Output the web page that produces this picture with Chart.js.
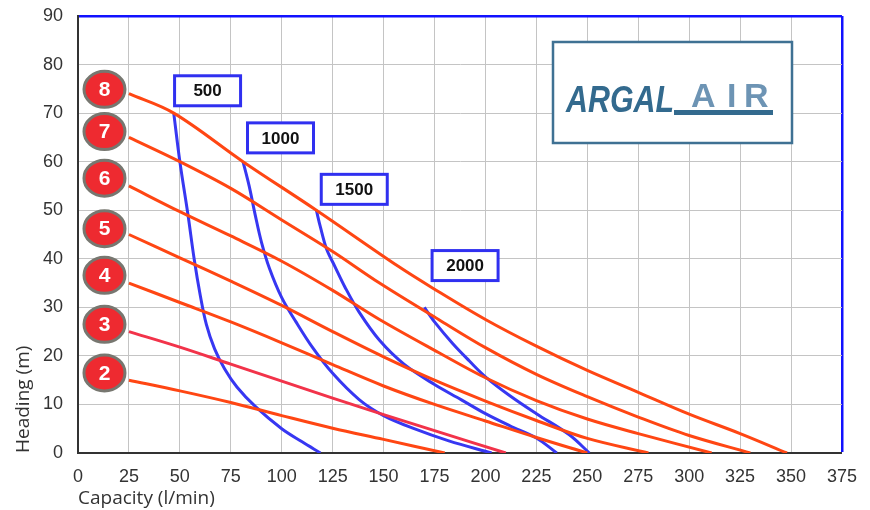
<!DOCTYPE html>
<html>
<head>
<meta charset="utf-8">
<script src="https://cdn.jsdelivr.net/npm/chart.js@4.4.1/dist/chart.umd.min.js"></script>
<style>
body{margin:0;background:#fff}
</style>
</head>
<body>
<canvas id="pcrv" width="870" height="510"></canvas>
<script>
// axis ranges
var xMin = 0, xMax = 375, xStep = 25;
var yMin = 0, yMax = 90, yStep = 10;

// red lines: air pressure (bar)
var pressNames = ['2', '3', '4', '5', '6', '7', '8'];
var p2x = [25, 50, 75, 100, 125, 150, 180];
var p2y = [15, 12.8, 10.4, 7.7, 5.1, 2.8, 0];
var p3x = [25, 50, 75, 100, 125, 150, 175, 210];
var p3y = [25, 21.8, 18.3, 14.8, 11.3, 7.9, 4.6, 0];
var p4x = [25, 50, 75, 100, 125, 150, 175, 200, 225, 250];
var p4y = [35, 31, 27, 22.7, 18.2, 13.8, 10, 6.6, 3.2, 0];
var p5x = [25, 50, 75, 100, 125, 150, 175, 200, 225, 250, 280];
var p5y = [45, 40.2, 35.4, 30.4, 25, 19.8, 15, 10.7, 6.7, 3, 0];
var p6x = [25, 50, 75, 100, 125, 148, 177, 200, 225, 250, 275, 311];
var p6y = [55, 49.7, 44.7, 39.5, 33.5, 27.5, 20.7, 15.5, 10.8, 7, 4, 0];
var p7x = [25, 50, 75, 100, 125, 148, 177, 200, 225, 250, 275, 300, 330];
var p7y = [65, 60, 54.5, 48, 41.5, 35, 27.5, 21.7, 16.2, 11.6, 7.4, 3.6, 0];
var p8x = [25, 47, 81, 117, 157, 174, 200, 225, 250, 275, 300, 325, 348];
var p8y = [74, 70, 60, 50, 38.5, 34, 27.5, 22, 17, 12.5, 8, 4, 0];
var badgeX = 13;
var badgeY = [16.5, 26.5, 36.6, 46.2, 56.6, 66.2, 74.9];

// blue lines: air consumption (Nl/min)
var airNames = ['500', '1000', '1500', '2000'];
var a500x = [47, 50, 54, 57, 60, 63, 67, 72, 78, 87, 100, 110, 119];
var a500y = [70, 60, 49, 40, 32.5, 26.5, 21.5, 17.3, 13.6, 9.6, 5, 2.3, 0];
var a1000x = [81, 84, 87, 90, 94, 100, 107, 115, 125, 138, 150, 165, 182, 203];
var a1000y = [60, 55, 49, 43.5, 38, 32, 27, 21.8, 16.4, 11, 7.7, 5, 2.5, 0];
var a1500x = [117, 119, 122, 126, 131, 138, 148, 160, 175, 188, 200, 212, 225, 235];
var a1500y = [50, 46.5, 42, 38.5, 34.2, 29, 23.2, 18.3, 14.1, 11, 8.1, 5.6, 3.1, 0];
var a2000x = [170, 175, 184, 192, 200, 212, 225, 241, 251];
var a2000y = [30, 27, 22.5, 19, 15.7, 11.8, 8.1, 3.8, 0];
var airLabelX = [63.6, 99.4, 135.6, 190];
var airLabelY = [74.6, 64.9, 54.3, 38.6];

function pts(xs, ys){
	var out = [];
	for (var i = 0; i < xs.length; i++) out.push({x: xs[i], y: ys[i]});
	return out;
}

var pressX = [p2x, p3x, p4x, p5x, p6x, p7x, p8x];
var pressY = [p2y, p3y, p4y, p5y, p6y, p7y, p8y];
var airX = [a500x, a1000x, a1500x, a2000x];
var airY = [a500y, a1000y, a1500y, a2000y];

var dsets = [];
for (var i = 0; i < pressNames.length; i++){
	dsets.push({
		label: pressNames[i] + ' bar',
		data: pts(pressX[i], pressY[i]),
		showLine: true,
		borderColor: pressNames[i] == '3' ? '#f2334a' : '#ff4613',
		borderWidth: 3,
		pointRadius: 0,
		tension: 0.35
	});
}
for (var i = 0; i < airNames.length; i++){
	dsets.push({
		label: airNames[i] + ' Nl/min',
		data: pts(airX[i], airY[i]),
		showLine: true,
		borderColor: '#3737f2',
		borderWidth: 3,
		pointRadius: 0,
		tension: 0.35
	});
}

var decor = {
	id: 'decor',
	afterDatasetsDraw: function(chart){
		var c = chart.ctx, xs = chart.scales.x, ys = chart.scales.y;
		c.save();
		c.textAlign = 'center';
		c.textBaseline = 'middle';
		// pressure badges
		for (var i = 0; i < pressNames.length; i++){
			var px = xs.getPixelForValue(badgeX), py = ys.getPixelForValue(badgeY[i]);
			c.beginPath();
			c.ellipse(px, py, 20.5, 18, 0, 0, Math.PI * 2);
			c.fillStyle = '#ee2a30';
			c.fill();
			c.lineWidth = 3;
			c.strokeStyle = '#777770';
			c.stroke();
			c.fillStyle = '#fff';
			c.font = 'bold 21px "Liberation Sans"';
			c.fillText(pressNames[i], px, py + 1);
		}
		// air boxes
		for (var i = 0; i < airNames.length; i++){
			var bx = xs.getPixelForValue(airLabelX[i]), by = ys.getPixelForValue(airLabelY[i]);
			c.fillStyle = '#fff';
			c.fillRect(bx - 33, by - 15, 66, 30);
			c.lineWidth = 3;
			c.strokeStyle = '#3030f0';
			c.strokeRect(bx - 33, by - 15, 66, 30);
			c.fillStyle = '#111';
			c.font = 'bold 17px "Liberation Sans"';
			c.fillText(airNames[i], bx, by + 1);
		}
		// logo
		c.fillStyle = '#fff';
		c.fillRect(553, 42, 239, 101);
		c.lineWidth = 2.5;
		c.strokeStyle = '#3f7193';
		c.strokeRect(553, 42, 239, 101);
		c.textAlign = 'left';
		c.textBaseline = 'alphabetic';
		c.font = 'italic bold 37px "Liberation Sans"';
		c.fillStyle = '#336a8e';
		c.fillText('ARGAL', 566, 112, 108);
		c.fillRect(674, 110, 99, 5);
		c.font = 'bold 34px "Liberation Sans"';
		c.fillStyle = '#6d94b4';
		c.fillText('A', 691, 107, 27);
		c.fillText('I', 727, 107);
		c.fillText('R', 744, 107, 29);
		c.restore();
	}
};

var tickFont = {family: '"Liberation Sans"', size: 18};
var titleFont = {family: '"Open Sans"', size: 19};

new Chart(document.getElementById('pcrv'), {
	type: 'scatter',
	data: {datasets: dsets},
	options: {
		responsive: false,
		devicePixelRatio: 1,
		animation: false,
		layout: {padding: {top: 16, right: 27, left: 0, bottom: 0}},
		plugins: {legend: {display: false}, tooltip: {enabled: false}},
		scales: {
			x: {
				type: 'linear', min: xMin, max: xMax,
				afterFit: function(s){ s.height = 57; },
				ticks: {stepSize: xStep, font: tickFont, color: '#333', padding: 13, maxRotation: 0},
				grid: {
					drawTicks: false,
					color: function(ctx){ return ctx.tick && ctx.tick.value == xMax ? '#1212ff' : '#c4c4c4'; },
					lineWidth: function(ctx){ return ctx.tick && ctx.tick.value == xMax ? 2.5 : 1; }
				},
				border: {color: '#333', width: 2},
				title: {display: true, text: 'Capacity (l/min)', align: 'start', font: titleFont, color: '#333', padding: {top: 3, bottom: 0}}
			},
			y: {
				min: yMin, max: yMax,
				afterFit: function(s){ s.width = 78; s.paddingTop = 0; s.paddingBottom = 0; },
				ticks: {stepSize: yStep, font: tickFont, color: '#333', padding: 15},
				grid: {
					drawTicks: false,
					color: function(ctx){ return ctx.tick && ctx.tick.value == yMax ? '#1212ff' : '#c4c4c4'; },
					lineWidth: function(ctx){ return ctx.tick && ctx.tick.value == yMax ? 2.5 : 1; }
				},
				border: {color: '#333', width: 2},
				title: {display: true, text: 'Heading (m)', align: 'start', font: titleFont, color: '#333', padding: {top: 12, bottom: 0}}
			}
		}
	},
	plugins: [decor]
});
</script>
</body>
</html>
